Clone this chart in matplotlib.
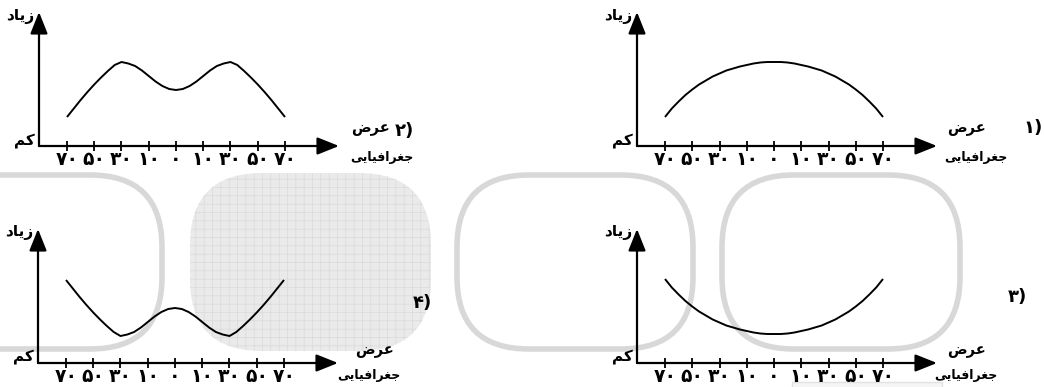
import matplotlib
matplotlib.use('Agg')
import matplotlib.pyplot as plt
from matplotlib.patches import FancyBboxPatch, Rectangle

# ---------------- data ----------------
tick_pos = [0, 1, 2, 3, 4, 5, 6, 7, 8]
tick_labels = ['۷۰', '۵۰', '۳۰', '۱۰', '۰', '۱۰', '۳۰', '۵۰', '۷۰']

curve_x = [0, 0.25, 0.5, 0.75, 1, 1.25, 1.5, 1.75, 2, 2.25, 2.5, 2.75, 3, 3.25, 3.5, 3.75,
           4, 4.25, 4.5, 4.75, 5, 5.25, 5.5, 5.75, 6, 6.25, 6.5, 6.75, 7, 7.25, 7.5, 7.75, 8]

# panel 1: single arch
curve1 = [29, 37.5, 44.5, 51, 56.5, 61.5, 65.5, 69.5, 72.5, 75.5, 77.5, 79.5, 81, 82.5, 83.5, 84,
          84, 84, 83.5, 82.5, 81, 79.5, 77.5, 75.5, 72.5, 69.5, 65.5, 61.5, 56.5, 51, 44.5, 37.5, 29]
# panel 2: two peaks
curve2 = [29, 37.5, 46, 54, 61.5, 68.5, 75, 81, 84, 82.5, 80, 75.5, 70, 64.5, 60, 57,
          56, 57, 60, 64.5, 70, 75.5, 80, 82.5, 84, 81, 75, 68.5, 61.5, 54, 46, 37.5, 29]
# panel 3: single bowl
curve3 = [84, 75.5, 68.5, 62, 56.5, 51.5, 47.5, 43.5, 40.5, 37.5, 35.5, 33.5, 32, 30.5, 29.5, 29,
          29, 29, 29.5, 30.5, 32, 33.5, 35.5, 37.5, 40.5, 43.5, 47.5, 51.5, 56.5, 62, 68.5, 75.5, 84]
# panel 4: two troughs
curve4 = [83, 74.5, 66, 58, 50.5, 43.5, 37, 31, 27, 28.5, 31, 35.5, 41, 46.5, 51, 54,
          55, 54, 51, 46.5, 41, 35.5, 31, 28.5, 27, 31, 37, 43.5, 50.5, 58, 66, 74.5, 83]

curves = [curve1, curve2, curve3, curve4]
panel_numbers = ['۱)', '۲)', '۳)', '۴)']

# Persian words (presentation forms, visual order)
txt_high = '\uFEA9\uFE8E\uFBFE\uFEAF'          # زیاد
txt_low = '\uFEE2\uFB90'                         # کم
txt_lat1 = '\uFEBD\uFEAE\uFECB'                  # عرض
txt_lat2 = '\uFBFD\uFBFE\uFE8E\uFBFF\uFED3\uFE8D\uFEAE\uFED0\uFE9F'  # جغرافیایی

# ---------------- layout ----------------
W, H, DPI = 1044, 387, 100
plt.rcParams['font.family'] = ['DejaVu Sans']
plt.rcParams['hatch.linewidth'] = 0.5
fig = plt.figure(figsize=(W / DPI, H / DPI), dpi=DPI)
fig.patch.set_facecolor('white')

# decorative background shapes (pixel coordinates)
bg = fig.add_axes([0, 0, 1, 1], zorder=0)
bg.set_xlim(0, W)
bg.set_ylim(H, 0)
bg.axis('off')
bg.add_patch(FancyBboxPatch((190, 173), 241, 178, boxstyle='round,pad=0,rounding_size=72',
                            facecolor='#eaeaea', edgecolor='none', lw=0))
bg.add_patch(FancyBboxPatch((190, 173), 241, 178, boxstyle='round,pad=0,rounding_size=72',
                            facecolor='none', edgecolor='#dadada', hatch='++', lw=0))
for (x0, y0, w, h) in [(-120, 175, 282, 174), (457, 175, 236, 174), (722, 175, 238, 174)]:
    bg.add_patch(FancyBboxPatch((x0, y0), w, h, boxstyle='round,pad=0,rounding_size=72',
                                facecolor='none', edgecolor='#d8d8d8', lw=4))
bg.add_patch(Rectangle((792, 382), 150, 12, facecolor='#f5f5f5', edgecolor='#e2e2e2', lw=1))

# panel placement (pixels): origin, label offsets
panels = [
    dict(ox=637, oy=146, l1=(329, -18), l2=(339, 11), num=(396, -18)),
    dict(ox=39, oy=146, l1=(331, -18), l2=(343, 11), num=(365, -15)),
    dict(ox=637, oy=363, l1=(330, -13), l2=(329, 12), num=(380, -66)),
    dict(ox=38, oy=363, l1=(337, -13), l2=(331, 12), num=(384, -60)),
]
PX = 27.25   # pixels per tick step
AW, AH = 300, 134

for p, ys, num in zip(panels, curves, panel_numbers):
    ox, oy = p['ox'], p['oy']
    ax = fig.add_axes([ox / W, (H - oy) / H, AW / W, AH / H], zorder=2)
    ax.patch.set_alpha(0)
    xmin, xmax = -28 / PX, (AW - 28) / PX
    ax.set_xlim(xmin, xmax)
    ax.set_ylim(0, AH)
    for s in ax.spines.values():
        s.set_visible(False)
    ax.plot(curve_x, ys, color='black', lw=1.4, solid_capstyle='butt', clip_on=False)
    ax.set_xticks(tick_pos)
    ax.set_xticklabels(tick_labels, fontsize=13.5, fontweight='bold')
    ax.tick_params(axis='x', direction='inout', length=7.5, width=1.3, pad=-1)
    ax.set_yticks([])
    ap = dict(arrowstyle='-|>,head_length=0.95,head_width=0.38', color='black', lw=1.6,
              shrinkA=0, shrinkB=0, mutation_scale=14)
    ax.annotate('', xy=(xmax, 0), xytext=(xmin, 0), arrowprops=ap, annotation_clip=False)
    ax.annotate('', xy=(xmin, AH), xytext=(xmin, 0), arrowprops=ap, annotation_clip=False)

    def ftext(x, y, s, **kw):
        fig.text(x / W, 1 - y / H, s, fontweight='bold', **kw)

    ftext(ox - 5, oy - AH + 4, txt_high, fontsize=11, ha='right', va='center')
    ftext(ox - 4, oy - 6, txt_low, fontsize=11, ha='right', va='center')
    ftext(ox + p['l1'][0], oy + p['l1'][1], txt_lat1, fontsize=10.5, ha='center', va='center')
    ftext(ox + p['l2'][0], oy + p['l2'][1], txt_lat2, fontsize=9, ha='center', va='center')
    ftext(ox + p['num'][0], oy + p['num'][1], num, fontsize=13, ha='center', va='center')

fig.savefig('out.png', dpi=DPI, facecolor='white')
